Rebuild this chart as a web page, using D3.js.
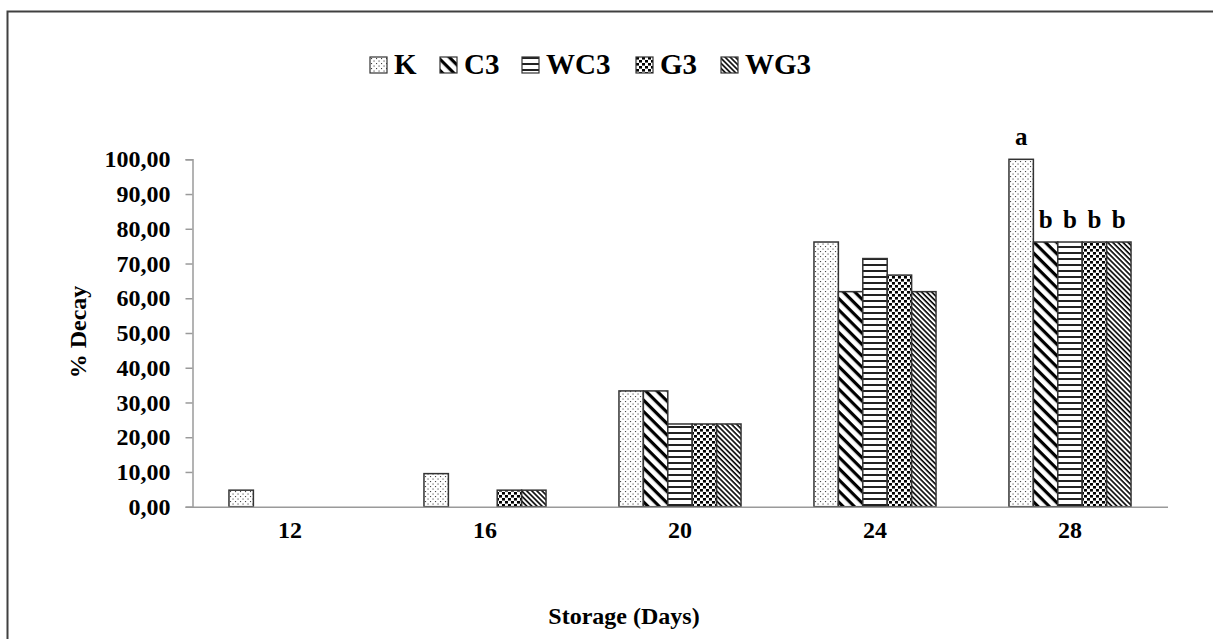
<!DOCTYPE html>
<html>
<head>
<meta charset="utf-8">
<script src="https://cdn.jsdelivr.net/npm/d3@7"></script>
<style>
  body { margin: 0; background: #fff; }
  svg text { font-family: "Liberation Serif", "Times New Roman", serif; font-weight: bold; fill: #000; }
</style>
</head>
<body>
<svg id="chart" width="1213" height="639"></svg>
<script>
// storage day groups
const days = ["12", "16", "20", "24", "28"];
const series = ["K", "C3", "WC3", "G3", "WG3"];
// % decay per treatment, one value per storage day
const K   = [4.76, 9.52, 33.33, 76.19, 100.00];
const C3  = [0, 0, 33.33, 61.90, 76.19];
const WC3 = [0, 0, 23.81, 71.43, 76.19];
const G3  = [0, 4.76, 23.81, 66.67, 76.19];
const WG3 = [0, 4.76, 23.81, 61.90, 76.19];
const yTicks = [0, 10, 20, 30, 40, 50, 60, 70, 80, 90, 100];
// significance letters above the last group
const letters28 = ["a", "b", "b", "b", "b"];

const values = {K: K, C3: C3, WC3: WC3, G3: G3, WG3: WG3};

const svg = d3.select("#chart");
const m = {left: 192.5, right: 1167.5, top: 159.3, bottom: 506.7};

// frame around the whole chart
svg.append("rect")
    .attr("x", 7.5).attr("y", 11.5)
    .attr("width", 1300).attr("height", 800)
    .attr("fill", "none").attr("stroke", "#404040").attr("stroke-width", 2);

// fill patterns
const defs = svg.append("defs");
function pat(id, w, h, transform) {
    const p = defs.append("pattern").attr("id", id)
        .attr("patternUnits", "userSpaceOnUse")
        .attr("width", w).attr("height", h);
    if (transform) p.attr("patternTransform", transform);
    p.append("rect").attr("width", w).attr("height", h).attr("fill", "#fff");
    return p;
}
let p = pat("pK", 5, 5);
p.append("rect").attr("x", 1).attr("y", 1).attr("width", 1.1).attr("height", 1.1).attr("fill", "#444");
p.append("rect").attr("x", 3.5).attr("y", 3.5).attr("width", 1.1).attr("height", 1.1).attr("fill", "#444");

p = pat("pC3", 8, 8, "rotate(45)");
p.append("rect").attr("x", 0).attr("y", 0).attr("width", 8).attr("height", 3.2).attr("fill", "#000");

p = pat("pWC3", 6, 6);
p.append("rect").attr("x", 0).attr("y", 0).attr("width", 6).attr("height", 2).attr("fill", "#222");

p = pat("pG3", 6, 6);
p.append("rect").attr("x", 0).attr("y", 0).attr("width", 3).attr("height", 2.6).attr("fill", "#000");
p.append("rect").attr("x", 3).attr("y", 3).attr("width", 3).attr("height", 2.6).attr("fill", "#000");

p = pat("pWG3", 3.6, 3.6, "rotate(45)");
p.append("rect").attr("x", 0).attr("y", 0).attr("width", 3.6).attr("height", 1.6).attr("fill", "#000");

// scales
const x0 = d3.scaleBand().domain(days).range([m.left, m.right])
    .paddingInner(0.374).paddingOuter(0.187);
const x1 = d3.scaleBand().domain(series).range([0, x0.bandwidth()]);
const y = d3.scaleLinear().domain([0, 100]).range([m.bottom, m.top]);

const loc = d3.formatLocale({decimal: ",", thousands: ".", grouping: [3], currency: ["", ""]});
const fmt = loc.format(".2f");

// y axis
const yAxis = svg.append("g")
    .attr("transform", `translate(${m.left},0)`)
    .call(d3.axisLeft(y).tickValues(yTicks).tickSize(7).tickPadding(15).tickFormat(fmt));
yAxis.select(".domain").attr("stroke", "#9a9a9a").attr("stroke-width", 1.5);
yAxis.selectAll(".tick line").attr("stroke", "#9a9a9a").attr("stroke-width", 1.5);
yAxis.selectAll(".tick text").attr("font-size", 24).attr("font-family", null);

// bars
const groups = svg.append("g").selectAll("g").data(days).join("g")
    .attr("transform", d => `translate(${x0(d)},0)`);
groups.selectAll("rect")
    .data((d, i) => series.map(s => ({s: s, v: values[s][i]})).filter(e => e.v > 0))
    .join("rect")
    .attr("x", d => x1(d.s))
    .attr("y", d => y(d.v))
    .attr("width", x1.bandwidth())
    .attr("height", d => y(0) - y(d.v))
    .attr("fill", d => `url(#p${d.s})`)
    .attr("stroke", "#333").attr("stroke-width", 1.5);

// x axis
const xAxis = svg.append("g")
    .attr("transform", `translate(0,${m.bottom})`)
    .call(d3.axisBottom(x0).tickSize(0).tickPadding(14));
xAxis.select(".domain").attr("stroke", "#9a9a9a").attr("stroke-width", 1.5);
xAxis.selectAll(".tick text").attr("font-size", 24).attr("font-family", null);

// letters above day 28
const last = days.length - 1;
svg.append("g").selectAll("text").data(series).join("text")
    .attr("x", (s) => x0(days[last]) + x1(s) + x1.bandwidth() / 2)
    .attr("y", (s) => y(values[s][last]) - 14)
    .attr("text-anchor", "middle")
    .attr("font-size", 25)
    .text((s, i) => letters28[i]);

// axis titles
svg.append("text")
    .attr("transform", `translate(86,332) rotate(-90)`)
    .attr("text-anchor", "middle")
    .attr("font-size", 24)
    .text("% Decay");
svg.append("text")
    .attr("x", 624).attr("y", 624)
    .attr("text-anchor", "middle")
    .attr("font-size", 24)
    .text("Storage (Days)");

// legend
const legendX = [370, 440, 522, 636, 721];
const legend = svg.append("g").selectAll("g").data(series).join("g")
    .attr("transform", (d, i) => `translate(${legendX[i]},57)`);
legend.append("rect")
    .attr("width", 17).attr("height", 16)
    .attr("fill", d => `url(#p${d})`)
    .attr("stroke", "#333").attr("stroke-width", 1.2);
legend.append("text")
    .attr("x", 24).attr("y", 17)
    .attr("font-size", 29)
    .text(d => d);
</script>
</body>
</html>
